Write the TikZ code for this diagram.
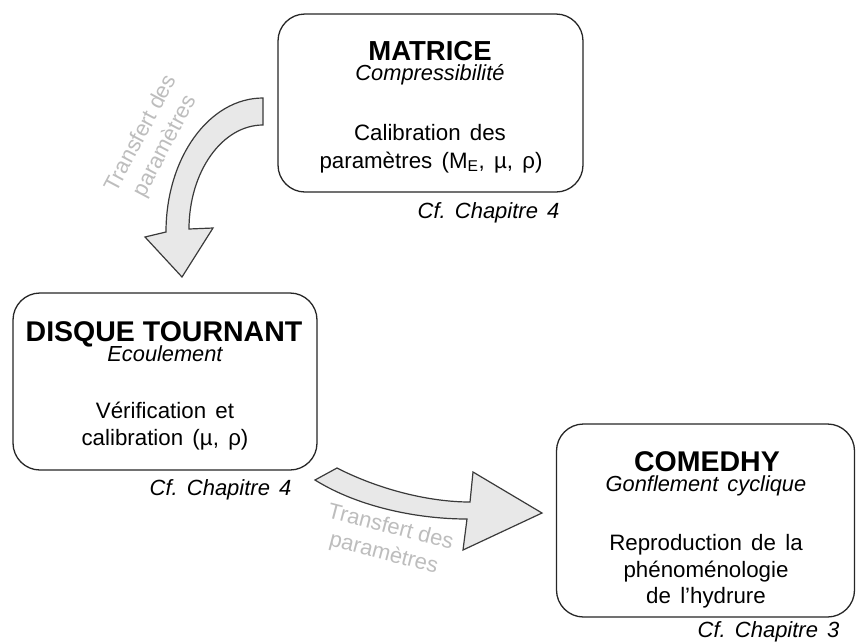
\documentclass[tikz,border=0pt]{standalone}
\usepackage{fontspec}
\setmainfont[WordSpace=1.5]{Liberation Sans}
\newfontfamily\plainsans{Liberation Sans}
\definecolor{arrowfill}{HTML}{E8E8E8}
\definecolor{arrowline}{HTML}{3A3A3A}
\definecolor{labelgray}{HTML}{BDBDBD}
\begin{document}
\frenchspacing
\begin{tikzpicture}[x=1pt,y=-1pt,
  box/.style={draw=black!85, line width=1.3pt, rounded corners=27pt, fill=white, inner sep=0pt},
  titletext/.style={anchor=base, font=\plainsans\fontsize{28.5pt}{32pt}\selectfont\bfseries},
  subtext/.style={anchor=base, font=\fontsize{21.8pt}{25pt}\selectfont\itshape},
  bodytext/.style={anchor=base, font=\fontsize{22.3pt}{26pt}\selectfont},
  reftext/.style={anchor=base east, font=\fontsize{22pt}{25pt}\selectfont\itshape},
  bigarrow/.style={draw=arrowline, fill=arrowfill, line width=1.2pt, line join=miter},
  arrowlabel/.style={align=center, text=labelgray, inner sep=0pt, font=\plainsans\fontsize{22pt}{27pt}\selectfont}
]
\useasboundingbox (0,0) rectangle (856,641);

% boxes
\node[box, minimum width=305pt, minimum height=178pt] (matrice) at (430.5,103) {};
\node[box, minimum width=304pt, minimum height=177pt] (disque) at (165,381.5) {};
\node[box, minimum width=298pt, minimum height=193pt] (comedhy) at (705.5,520.5) {};

% MATRICE text
\node[titletext, font=\plainsans\fontsize{27.5pt}{32pt}\selectfont\bfseries] (mt) at (430,60) {MATRICE};
\node[subtext] (ms) at (430,80.5) {Compressibilité};
\node[bodytext] (mb1) at (430,140) {Calibration des};
\node[bodytext] (mb2) at (431,168) {paramètres (M\textsubscript{E}, µ, ρ)};
\node[reftext] (mr) at (563,218) {Cf. Chapitre 4};

% DISQUE TOURNANT text
\node[titletext] (dt) at (164,341.5) {DISQUE TOURNANT};
\node[subtext] (ds) at (165,361.5) {Ecoulement};
\node[bodytext] (db1) at (165,418) {Vérification et};
\node[bodytext] (db2) at (165,445) {calibration (µ, ρ)};
\node[reftext] (dr) at (295,495) {Cf. Chapitre 4};

% COMEDHY text
\node[titletext] (ct) at (707,471.5) {COMEDHY};
\node[subtext] (cs) at (706,491.5) {Gonflement cyclique};
\node[bodytext] (cb1) at (706,550) {Reproduction de la};
\node[bodytext] (cb2) at (706,577) {phénoménologie};
\node[bodytext] (cb3) at (706,603) {de l’hydrure};
\node[reftext] (cr) at (843,637) {Cf. Chapitre 3};

% curved block arrow 1 (MATRICE -> DISQUE)
\draw[bigarrow] (263,98)
  .. controls (209,98) and (166,158) .. (166,232)
  -- (145,237) -- (182,277) -- (213,228) -- (189,229)
  .. controls (189,172) and (222,125) .. (263,125)
  -- cycle;
\node[arrowlabel, rotate=62] (l1) at (153.5,140) {Transfert des\\paramètres};

% curved block arrow 2 (DISQUE -> COMEDHY)
\draw[bigarrow] (315,480) -- (337,468)
  .. controls (380,490) and (430,502) .. (470,502)
  -- (473,472) -- (542,513) -- (463,550) -- (467,519)
  .. controls (420,519) and (360,508) .. (315,480)
  -- cycle;
\node[arrowlabel, rotate=-14.7] (l2) at (387,541) {Transfert des\\paramètres};
\end{tikzpicture}
\end{document}
